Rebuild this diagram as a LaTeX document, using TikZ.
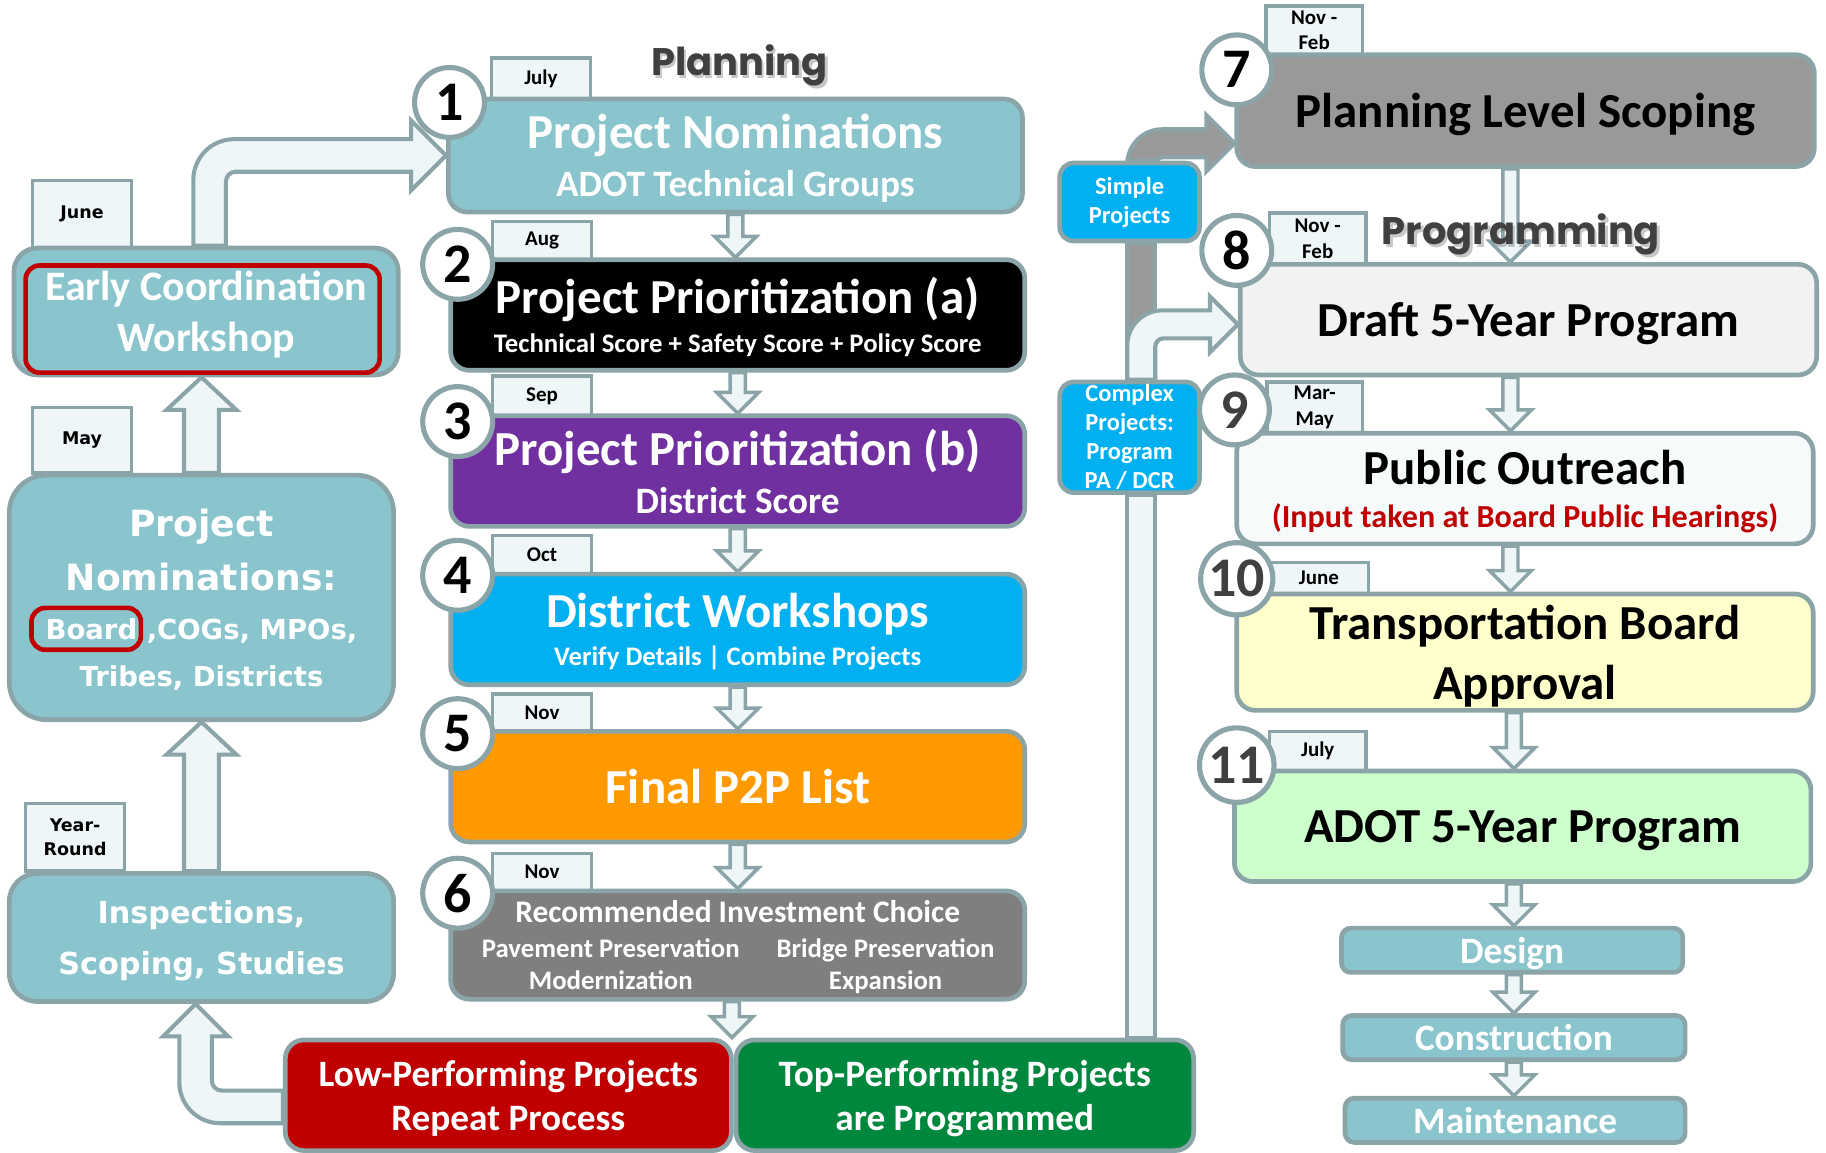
\documentclass[tikz,border=0pt]{standalone}
\usepackage{fontspec}
\setmainfont{Carlito}
\newfontfamily\verdfont{DejaVu Sans}
\newfontfamily\headfont{Poppins}
\usetikzlibrary{calc,backgrounds}

\definecolor{edgegray}{RGB}{138,164,168}
\definecolor{palefill}{RGB}{238,246,248}
\definecolor{tealbox}{RGB}{138,197,206}
\definecolor{priopurple}{RGB}{112,48,160}
\definecolor{skyblue}{RGB}{0,176,240}
\definecolor{p2porange}{RGB}{255,153,0}
\definecolor{ricgray}{RGB}{127,127,127}
\definecolor{lowred}{RGB}{192,0,0}
\definecolor{topgreen}{RGB}{0,135,62}
\definecolor{scopegray}{RGB}{153,153,153}
\definecolor{draftfill}{RGB}{242,242,242}
\definecolor{outreachfill}{RGB}{246,250,251}
\definecolor{approvalfill}{RGB}{255,255,204}
\definecolor{programfill}{RGB}{204,255,204}
\definecolor{headgray}{RGB}{64,64,64}

% small hollow arrow straight down
\newcommand{\flowdown}[2]{%
  \draw[thinflow] let \p1=(#1), \p2=(#2) in
    (\x1-3.25pt,\y1) -- (\x1-3.25pt,\y2+9pt) -- (\x1-9pt,\y2+9pt) -- (\x1,\y2)
    -- (\x1+9pt,\y2+9pt) -- (\x1+3.25pt,\y2+9pt) -- (\x1+3.25pt,\y1) -- cycle;}
% wide hollow arrow straight up
\newcommand{\flowup}[2]{%
  \draw[wideflow] let \p1=(#1), \p2=(#2) in
    (\x1-7.5pt,\y1) -- (\x1-7.5pt,\y2-14pt) -- (\x1-15pt,\y2-14pt) -- (\x1,\y2)
    -- (\x1+15pt,\y2-14pt) -- (\x1+7.5pt,\y2-14pt) -- (\x1+7.5pt,\y1) -- cycle;}
% up, then right into a box
\newcommand{\bendright}[5]{%
  \draw[#5] let \p1=(#1), \p2=(#2) in
    (\x1-#3,\y1) -- (\x1-#3,\y2-1.5*#3)
    arc[start angle=180, end angle=90, radius=2.5*#3]
    -- (\x2-#4,\y2+#3) -- (\x2-#4,\y2+#4) -- (\x2,\y2) -- (\x2-#4,\y2-#4)
    -- (\x2-#4,\y2-#3) -- (\x1+1.6*#3,\y2-#3)
    arc[start angle=90, end angle=180, radius=0.6*#3]
    -- (\x1+#3,\y1) -- cycle;}
% left, then up into a box
\newcommand{\bendup}[5]{%
  \draw[#5] let \p1=(#1), \p2=(#2) in
    (\x1,\y1+#3) -- (\x2+1.6*#3,\y1+#3)
    arc[start angle=270, end angle=180, radius=0.6*#3]
    -- (\x2+#3,\y2-#4) -- (\x2+#4,\y2-#4) -- (\x2,\y2) -- (\x2-#4,\y2-#4)
    -- (\x2-#3,\y2-#4) -- (\x2-#3,\y1+1.5*#3)
    arc[start angle=180, end angle=270, radius=2.5*#3]
    -- (\x1,\y1-#3) -- cycle;}

\begin{document}
\begin{tikzpicture}[x=0.5pt, y=-0.5pt,
  stage/.style={draw=edgegray, line width=2pt, rounded corners=8pt, minimum width=246.5pt,
    minimum height=47.5pt, align=center, inner sep=0pt, text=white, text depth=0pt,
    font=\fontsize{21}{24}\selectfont\bfseries},
  tab/.style={draw=edgegray, line width=1.5pt, fill=palefill, minimum width=42.5pt,
    inner sep=0pt, align=center, font=\fontsize{9}{11}\selectfont\bfseries},
  oldtab/.style={tab, font=\verdfont\fontsize{7.5}{10}\selectfont\bfseries},
  numdisc/.style={circle, draw=edgegray, line width=2.2pt, fill=white, minimum size=30pt,
    inner sep=0pt, font=\fontsize{24}{24}\selectfont\bfseries},
  sidebox/.style={draw=edgegray, line width=2pt, fill=tealbox, rounded corners=10pt,
    minimum width=165pt, align=center, inner sep=0pt, text=white, text depth=0pt},
  splitbox/.style={draw=edgegray, line width=2pt, fill=skyblue, rounded corners=6pt,
    minimum width=60pt, align=center, inner sep=0pt, text=white,
    font=\fontsize{10.5}{12.5}\selectfont\bfseries},
  phase/.style={draw=edgegray, line width=2pt, fill=tealbox, rounded corners=4pt,
    minimum width=146.5pt, minimum height=19pt, inner sep=0pt, text=white, text depth=0pt,
    font=\fontsize{16}{16}\selectfont\bfseries},
  ring/.style={draw=lowred, line width=2pt, rounded corners=6pt, inner sep=0pt},
  heading/.style={text=headgray, font=\headfont\fontsize{16.5}{18}\selectfont\bfseries},
  headshadow/.style={heading, text=black, opacity=0.22},
  thinflow/.style={draw=edgegray, line width=1.5pt, fill=palefill},
  wideflow/.style={draw=edgegray, line width=1.75pt, fill=palefill},
  grayflow/.style={draw=edgegray, line width=1.75pt, fill=scopegray}
  ]
  \useasboundingbox (0,0) rectangle (1568,990);

  % month tabs
  \node[tab, minimum height=17.5pt] (julytab) at (464.5,67.5) {July};
  \node[tab, minimum height=16.5pt] (augtab) at (465.5,206.5) {Aug};
  \node[tab, minimum height=17pt] (septab) at (465.5,340) {Sep};
  \node[tab, minimum height=16.5pt] (octtab) at (465.5,476.5) {Oct};
  \node[tab, minimum height=16pt] (novtab) at (465.5,612) {Nov};
  \node[tab, minimum height=16pt] (ricnovtab) at (465.5,749) {Nov};
  \node[oldtab, minimum height=29pt] (junetab) at (70.5,184) {June};
  \node[oldtab, minimum height=28pt] (maytab) at (70.5,378) {May};
  \node[oldtab, minimum height=29pt] (yeartab) at (64.5,719) {Year-\\Round};
  \node[tab, minimum width=41.5pt, minimum height=21pt] (scopetab) at (1128.5,26) {Nov -\\Feb};
  \node[tab, minimum width=41.5pt, minimum height=22pt] (drafttab) at (1131.5,205) {Nov -\\Feb};
  \node[tab, minimum width=41pt, minimum height=22pt] (outreachtab) at (1129,350) {Mar-\\May};
  \node[tab, minimum height=13.5pt] (approvaltab) at (1132.5,496.5) {June};
  \node[tab, minimum width=41.5pt, minimum height=17pt] (programtab) at (1131.5,645) {July};

  % headings
  \node[headshadow] (planshadow) at (637,59) {Planning};
  \node[heading] (planhead) at (635,56) {Planning};
  \node[headshadow] (progshadow) at (1308,204) {Programming};
  \node[heading] (proghead) at (1306,201) {Programming};

  % planning column
  \node[stage, fill=tealbox, minimum height=48.5pt] (nominate) at (631.5,133.5)
    {Project Nominations\\[-3.5pt] {\fontsize{16}{18}\selectfont ADOT Technical Groups}};
  \node[stage, fill=black] (prioa) at (633.5,270.5)
    {Project Prioritization (a)\\[-7.5pt] {\fontsize{11.5}{14}\selectfont Technical Score + Safety Score + Policy Score}};
  \node[stage, fill=priopurple] (priob) at (633.5,404.5)
    {Project Prioritization (b)\\[-3.5pt] {\fontsize{16}{18}\selectfont District Score}};
  \node[stage, fill=skyblue] (workshop) at (633.5,540.5)
    {District Workshops\\[-7.5pt] {\fontsize{11.5}{14}\selectfont Verify Details \textbar{} Combine Projects}};
  \node[stage, fill=p2porange] (finallist) at (633.5,675.5) {Final P2P List};
  \node[stage, fill=ricgray, minimum height=46.5pt, font=\fontsize{11.5}{14}\selectfont\bfseries]
    (investment) at (633.5,811.5)
    {{\fontsize{13.5}{15}\selectfont Recommended Investment Choice}\\[1pt]
     \makebox[111pt]{Pavement Preservation}\hspace{16pt}\makebox[93pt]{Bridge Preservation}\\[-0.5pt]
     \makebox[111pt]{Modernization}\hspace{16pt}\makebox[93pt]{Expansion}};
  \node[stage, fill=lowred, minimum width=191.5pt, font=\fontsize{16}{19}\selectfont\bfseries]
    (lowperf) at (436.5,940.5) {Low-Performing Projects\\ Repeat Process};
  \node[stage, fill=topgreen, minimum width=196.5pt, font=\fontsize{16}{19}\selectfont\bfseries]
    (topperf) at (828.5,940.5) {Top-Performing Projects\\ are Programmed};

  % left column
  \node[sidebox, minimum height=54.5pt, font=\fontsize{18}{22}\selectfont\bfseries]
    (early) at (177,267.5) {Early Coordination\\ Workshop};
  \node[ring, minimum width=152pt, minimum height=46pt] (earlyring) at (174,274) {};
  \node[sidebox, minimum height=105pt, rounded corners=16pt,
    font=\verdfont\fontsize{15.5}{24}\selectfont\bfseries] (boardnom) at (173,513)
    {Project\\[-0.5pt] Nominations:\\[-3pt] {\fontsize{11.8}{20}\selectfont Board ,COGs, MPOs,}\\[-4pt]
     {\fontsize{11.8}{20}\selectfont Tribes, Districts}};
  \node[ring, minimum width=47pt, minimum height=18pt] (boardring) at (74,540) {};
  \node[sidebox, minimum height=55pt, rounded corners=12pt,
    font=\verdfont\fontsize{13}{21}\selectfont\bfseries] (inspect) at (173,805)
    {Inspections,\\[0.5pt] Scoping, Studies};

  % split of programmed projects
  \node[splitbox, minimum height=33.5pt] (simple) at (970,173.5) {Simple\\ Projects};
  \node[splitbox, minimum height=47.5pt] (complex) at (970,375.5)
    {Complex\\ Projects:\\ Program\\ PA / DCR};

  % programming column
  \node[stage, fill=scopegray, text=black, minimum width=248pt, minimum height=48pt]
    (scoping) at (1310,95) {Planning Level Scoping};
  \node[stage, fill=draftfill, text=black, minimum width=247.5pt] (draft) at (1312.5,274.5)
    {Draft 5-Year Program};
  \node[stage, fill=outreachfill, text=black, minimum width=247.5pt] (outreach) at (1309.5,419.5)
    {Public Outreach\\[-5.5pt] {\fontsize{13.8}{16}\selectfont\color{lowred}(Input taken at Board Public Hearings)}};
  \node[stage, fill=approvalfill, text=black, minimum width=247.5pt, minimum height=50pt]
    (approval) at (1309.5,560) {Transportation Board\\[1.5pt] Approval};
  \node[stage, fill=programfill, text=black, minimum width=247.5pt] (program) at (1307.5,709.5)
    {ADOT 5-Year Program};
  \node[phase] (design) at (1298.5,816) {Design};
  \node[phase, minimum width=147pt] (construction) at (1300,891) {Construction};
  \node[phase, minimum width=146pt] (maintenance) at (1301,962) {Maintenance};

  % step numbers
  \node[numdisc] (n1) at (386,88) {1};
  \node[numdisc] (n2) at (393,227) {2};
  \node[numdisc] (n3) at (393,362) {3};
  \node[numdisc] (n4) at (393,494) {4};
  \node[numdisc] (n5) at (393,630) {5};
  \node[numdisc] (n6) at (393,767) {6};
  \node[numdisc] (n7) at (1062,60) {7};
  \node[numdisc] (n8) at (1062,215) {8};
  \node[numdisc, text=headgray] (n9) at (1060,352) {9};
  \node[numdisc, text=headgray, minimum size=31pt] (n10) at (1062,497) {10};
  \node[numdisc, text=headgray, minimum size=32pt] (n11) at (1062,657) {11};

  \begin{pgfonlayer}{background}
    % planning flow
    \flowdown{nominate.south}{prioa.north}
    \flowdown{prioa.south}{priob.north}
    \flowdown{priob.south}{workshop.north}
    \flowdown{workshop.south}{finallist.north}
    \flowdown{finallist.south}{investment.north}
    \flowdown{[xshift=-2.5pt]investment.south}{lowperf.north east}
    % nominations feed
    \flowup{inspect.north}{boardnom.south}
    \flowup{boardnom.north}{early.south}
    \bendright{[xshift=1.5pt]early.north}{nominate.west}{7pt}{15pt}{wideflow}
    \bendup{[yshift=-5pt]lowperf.west}{[xshift=-2.5pt]inspect.south}{7pt}{14pt}{wideflow}
    % programmed projects
    \draw[wideflow] let \p1=([xshift=5pt]complex.south), \p2=(topperf.north) in
      (\x1-6pt,\y1) rectangle (\x1+6pt,\y2);
    \draw[grayflow] let \p1=([xshift=5pt]simple.south), \p2=(complex.north) in
      (\x1-6pt,\y1) rectangle (\x1+6pt,\y2);
    \bendright{[xshift=5pt]simple.north}{[yshift=-14pt]scoping.west}{6pt}{12pt}{grayflow}
    \bendright{[xshift=5pt]complex.north}{[yshift=-2pt]draft.west}{6pt}{12pt}{wideflow}
    % programming flow
    \flowdown{[xshift=-6.5pt]scoping.south}{draft.north}
    \flowdown{[xshift=-7.75pt]draft.south}{outreach.north}
    \flowdown{[xshift=-6.25pt]outreach.south}{approval.north}
    \flowdown{[xshift=-4.75pt]approval.south}{program.north}
    \flowdown{[xshift=-3.75pt]program.south}{design.north}
    \flowdown{[xshift=0.75pt]design.south}{construction.north}
    \flowdown{construction.south}{maintenance.north}
  \end{pgfonlayer}
\end{tikzpicture}
\end{document}
